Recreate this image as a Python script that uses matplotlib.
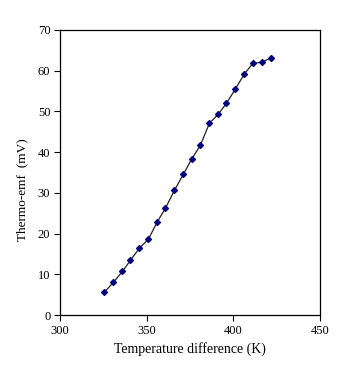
import matplotlib
matplotlib.use("Agg")
import matplotlib.pyplot as plt

temp_diff = [325.6, 330.8, 336.0, 340.6, 345.8, 351.0, 356.0, 360.8, 366.0, 371.2,
             376.0, 381.0, 386.2, 391.3, 396.0, 401.2, 406.2, 411.2, 416.4, 421.6]
thermo_emf = [5.6, 8.0, 10.7, 13.4, 16.4, 18.6, 22.8, 26.2, 30.6, 34.6,
              38.3, 41.7, 47.1, 49.3, 52.0, 55.5, 59.1, 61.8, 62.1, 63.1]
x_ticks = [300, 350, 400, 450]
y_ticks = [0, 10, 20, 30, 40, 50, 60, 70]

plt.rcParams['font.family'] = ['Liberation Serif', 'DejaVu Serif']

fig = plt.figure(figsize=(3.39, 3.79), dpi=100)
ax = fig.add_axes([60/339, 1-315/379, 260/339, 285/379])
ax.plot(temp_diff, thermo_emf, color='#222222', linewidth=0.9,
        marker='D', markersize=3, markerfacecolor='#000080', markeredgecolor='#000080')
ax.set_xlim(300, 450)
ax.set_ylim(0, 70)
ax.set_xticks(x_ticks)
ax.set_yticks(y_ticks)
ax.tick_params(direction='out', length=4, width=0.8, labelsize=9, colors='black')
ax.tick_params(axis='y', pad=3)
for s in ax.spines.values():
    s.set_linewidth(0.9)
ax.set_xlabel('Temperature difference (K)', fontsize=10)
ax.xaxis.set_label_coords(0.5, -27/285)
ax.set_ylabel('Thermo-emf  (mV)', fontsize=9.5)
ax.yaxis.set_label_coords(-32/260, 0.44)
fig.savefig('out.png', dpi=100)
